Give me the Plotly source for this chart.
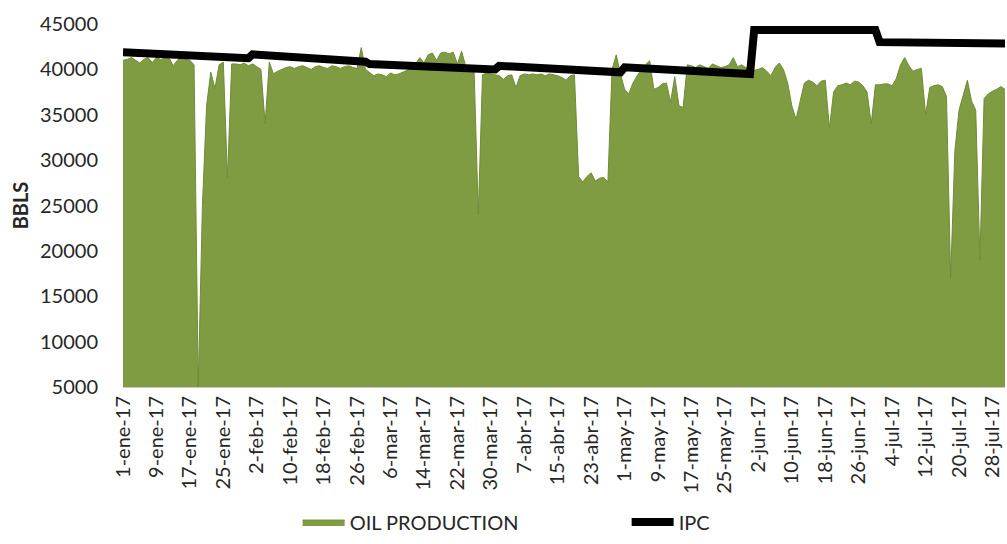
import pandas as pd
import plotly.graph_objects as go

# Daily oil production (BBLS), 1-Jan-2017 .. 31-Jul-2017
start_date = "2017-01-01"
end_date = "2017-07-31"

oil_production = [
    41000, 41100, 41300, 41000, 40700, 41100, 41300, 40750, 41300, 41100,
    41200, 41300, 40400, 41000, 41300, 41100, 41000, 40500, 5000, 25000,
    36000, 39700, 37900, 40500, 40800, 28000, 40600, 40600, 40500, 40700,
    40400, 40600, 40300, 40000, 34000, 40800, 39500, 39800, 40000, 40200,
    40300, 40100, 40300, 40400, 40200, 40000, 40300, 40400, 40200, 40100,
    40400, 40300, 40100, 40300, 40400, 40200, 40100, 42400, 40000, 39600,
    39300, 39500, 39400, 39200, 39600, 39400, 39500, 39700, 39900, 40200,
    40600, 41300, 40700, 41600, 41800, 41000, 41800, 41900, 41700, 41900,
    40600, 42000, 40300, 40000, 39800, 24000, 39400, 39600, 39500, 39400,
    39300, 38900, 39300, 39400, 38000, 39300, 39500, 39400, 39500, 39400,
    39500, 39300, 39500, 39400, 39300, 39100, 38800, 39300, 39400, 28200,
    27600, 28200, 28600, 27700, 28000, 28100, 27600, 40000, 41600, 39500,
    37800, 37300, 38500, 39300, 40000, 40500, 40950, 37800, 38000, 38400,
    38500, 36400, 39200, 36000, 35800, 40500, 40400, 40200, 40500, 40300,
    40100, 40600, 40400, 40200, 40300, 40500, 41300, 40300, 40500, 40200,
    40000, 39900, 40000, 40200, 39800, 39300, 40200, 40700, 40000, 38500,
    36000, 34500, 36500, 38500, 38800, 38600, 38200, 38700, 38800, 33500,
    37500, 38200, 38300, 38500, 38300, 38700, 38600, 38200, 37500, 34000,
    38300, 38300, 38400, 38400, 38200, 39000, 40500, 41300, 40400, 39800,
    40000, 40100, 35000, 38000, 38200, 38300, 38100, 37000, 17000, 31000,
    35500, 37200, 38800, 36500, 35500, 19000, 36800, 37300, 37600, 37800,
    38100, 37800,
]

# IPC reference curve: values at the first and last day of each month
ipc_dates = [
    "2017-01-01", "2017-01-31", "2017-02-01", "2017-02-28",
    "2017-03-01", "2017-03-31", "2017-04-01", "2017-04-30",
    "2017-05-01", "2017-05-31", "2017-06-01", "2017-06-30",
    "2017-07-01", "2017-07-31",
]
ipc_values = [
    41880, 41230, 41660, 40850,
    40580, 40000, 40390, 39680,
    40220, 39490, 44350, 44350,
    43000, 42850,
]

# Category labels shown on the date axis (every 8 days)
tick_labels = [
    "1-ene-17", "9-ene-17", "17-ene-17", "25-ene-17", "2-feb-17", "10-feb-17",
    "18-feb-17", "26-feb-17", "6-mar-17", "14-mar-17", "22-mar-17", "30-mar-17",
    "7-abr-17", "15-abr-17", "23-abr-17", "1-may-17", "9-may-17", "17-may-17",
    "25-may-17", "2-jun-17", "10-jun-17", "18-jun-17", "26-jun-17", "4-jul-17",
    "12-jul-17", "20-jul-17", "28-jul-17",
]

days = pd.date_range(start_date, end_date, freq="D")
tick_vals = pd.date_range(start_date, periods=len(tick_labels), freq="8D")

FONT = "Lato"
TEXT = "#262626"
SIZE = 20

fig = go.Figure()

fig.add_trace(go.Scatter(
    x=days,
    y=oil_production,
    name="OIL PRODUCTION",
    mode="lines",
    fill="tozeroy",
    fillcolor="#7F9C42",
    line=dict(color="#6F8C37", width=1),
))

fig.add_trace(go.Scatter(
    x=pd.to_datetime(ipc_dates),
    y=ipc_values,
    name="IPC",
    mode="lines",
    line=dict(color="#000000", width=8),
))

fig.update_layout(
    width=1007,
    height=544,
    margin=dict(l=123, r=2, t=24, b=151),
    paper_bgcolor="white",
    plot_bgcolor="white",
    font=dict(family=FONT, size=SIZE, color=TEXT),
    showlegend=True,
    legend=dict(
        orientation="h",
        x=0.198,
        xanchor="left",
        y=-0.372,
        yanchor="middle",
        itemwidth=42,
        entrywidth=272,
        font=dict(family=FONT, size=SIZE, color=TEXT),
        bgcolor="rgba(0,0,0,0)",
    ),
    xaxis=dict(
        type="date",
        range=[start_date, end_date],
        tickmode="array",
        tickvals=tick_vals,
        ticktext=tick_labels,
        tickangle=-90,
        tickfont=dict(family=FONT, size=SIZE, color=TEXT),
        showgrid=False,
        zeroline=False,
        showline=True,
        linecolor="#C8C8C8",
        linewidth=1,
        ticks="",
    ),
    yaxis=dict(
        range=[5000, 45000],
        tickmode="linear",
        tick0=5000,
        dtick=5000,
        tickformat="d",
        tickfont=dict(family=FONT, size=SIZE, color=TEXT),
        showgrid=False,
        zeroline=False,
        showline=False,
        ticks="",
        ticklabelstandoff=24,
        title=dict(
            text="<b>BBLS</b>",
            font=dict(family=FONT, size=SIZE, color=TEXT),
            standoff=6,
        ),
    ),
)

fig.write_html("out.html")
